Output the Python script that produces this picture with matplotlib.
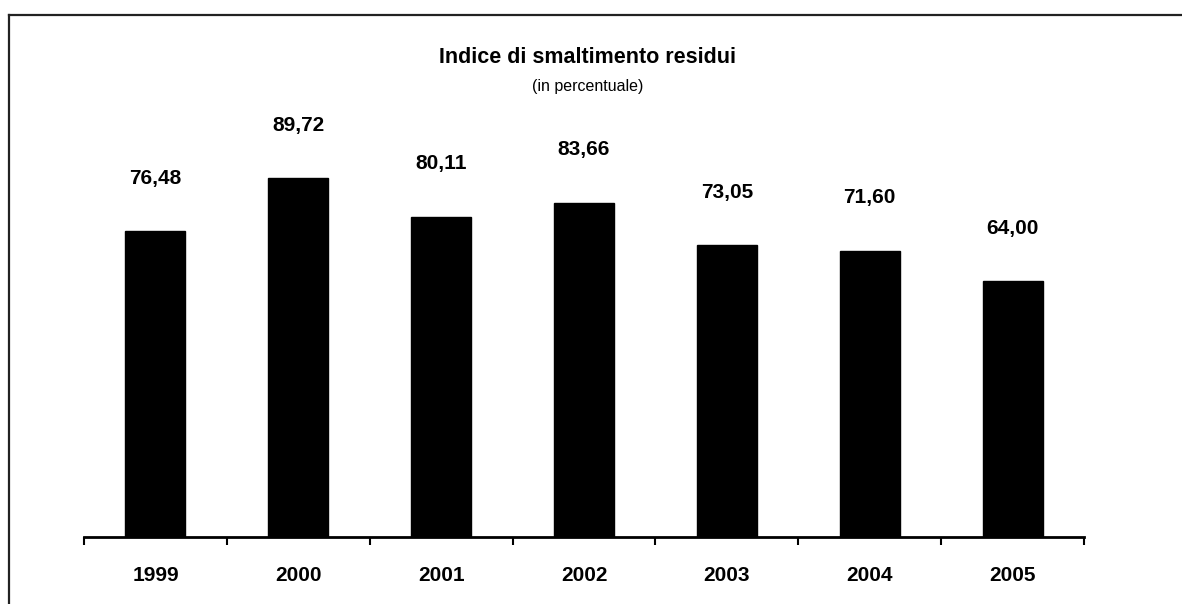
import matplotlib.pyplot as plt
from matplotlib.lines import Line2D

# Dati
anni = ['1999', '2000', '2001', '2002', '2003', '2004', '2005']
indice = [76.48, 89.72, 80.11, 83.66, 73.05, 71.60, 64.00]
etichette = ['76,48', '89,72', '80,11', '83,66', '73,05', '71,60', '64,00']

plt.rcParams['font.family'] = ['Liberation Sans', 'DejaVu Sans']

fig = plt.figure(figsize=(11.82, 6.04), dpi=100)
ax = fig.add_axes([0.0711, 0.1109, 0.846, 0.662])

x = list(range(len(anni)))
bars = ax.bar(x, indice, width=0.42, color='black', edgecolor='black', linewidth=1)

# Valori sopra le barre
for xi, v, lab in zip(x, indice, etichette):
    ax.annotate(lab, (xi, v), xytext=(0, 38), textcoords='offset points',
                ha='center', va='center', fontsize=15, fontweight='bold')

ax.set_xlim(-0.5, len(anni) - 0.5)
ax.set_ylim(0, 100)

# Asse x con tacche tra le categorie
ax.set_xticks(x)
ax.set_xticklabels(anni, fontsize=15, fontweight='bold')
ax.tick_params(axis='x', which='major', length=0, pad=21)
ax.set_xticks([i - 0.5 for i in range(len(anni) + 1)], minor=True)
ax.tick_params(axis='x', which='minor', length=6, width=1.5, direction='out')
ax.set_yticks([])

for s in ['left', 'right', 'top']:
    ax.spines[s].set_visible(False)
ax.spines['bottom'].set_linewidth(2)

# Titolo
fig.text(0.497, 0.905, 'Indice di smaltimento residui', ha='center', va='center',
         fontsize=15.5, fontweight='bold')
fig.text(0.497, 0.857, '(in percentuale)', ha='center', va='center', fontsize=11.5)

# Cornice (bordo superiore e sinistro)
fig.add_artist(Line2D([0.0076, 1.0], [0.975, 0.975], color='#222222', linewidth=1.6))
fig.add_artist(Line2D([0.0076, 0.0076], [0.0, 0.975], color='#222222', linewidth=1.6))

fig.savefig('out.png', dpi=100)
